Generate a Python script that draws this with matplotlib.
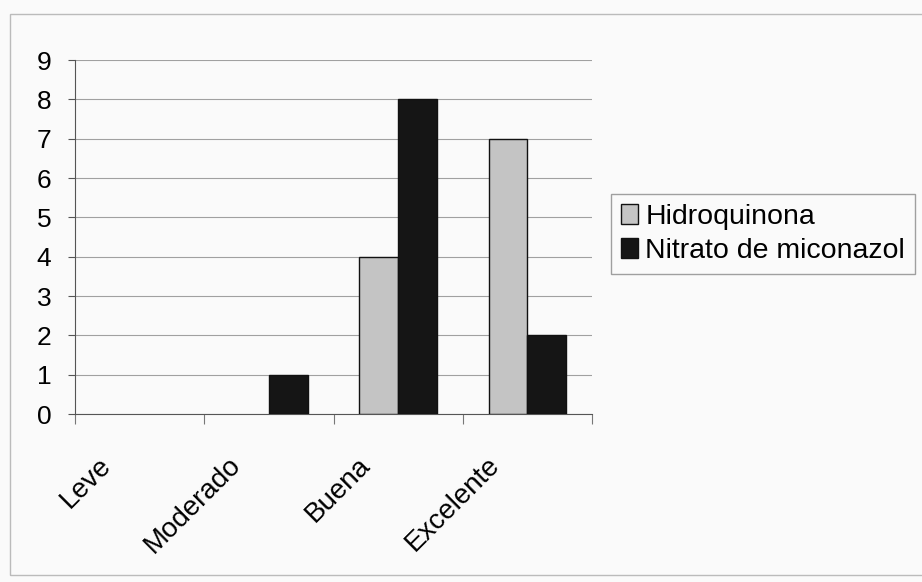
import numpy as np
import matplotlib.pyplot as plt
import matplotlib.transforms as mtransforms
from matplotlib.patches import Rectangle

# data
categories = ["Leve", "Moderado", "Buena", "Excelente"]
hidroquinona = [0, 0, 4, 7]
miconazol = [0, 1, 8, 2]
series_names = ["Hidroquinona", "Nitrato de miconazol"]

plt.rcParams['font.family'] = ['Liberation Sans', 'DejaVu Sans']

fig = plt.figure(figsize=(9.22, 5.82), dpi=100)
fig.patch.set_facecolor("#fafafa")
ax = fig.add_axes([75/922, 1 - 414/582, (592 - 75)/922, (414 - 60)/582])
ax.set_facecolor("#fafafa")

# outer chart frame
fig.patches.append(Rectangle((10/922, 0.012), 1.0, 1 - 14/582 - 0.012,
                             transform=fig.transFigure, fill=False,
                             edgecolor="#bbbbbb", linewidth=1.0))

x = np.arange(len(categories))
width = 0.3
b1 = ax.bar(x - width/2, hidroquinona, width, color="#c4c4c4", edgecolor="#111111",
            linewidth=1.0, label=series_names[0], zorder=3)
b2 = ax.bar(x + width/2, miconazol, width, color="#151515", edgecolor="#111111",
            linewidth=1.0, label=series_names[1], zorder=3)

leg = fig.legend(handles=[b1, b2], loc="center left",
                 bbox_to_anchor=(611/922, 1 - 234/582), fontsize=20.5,
                 frameon=True, fancybox=False, handlelength=0.6, handleheight=0.7,
                 handletextpad=0.25, borderpad=0.35, labelspacing=0.3,
                 borderaxespad=0)
leg.get_frame().set_edgecolor("#888888")
leg.get_frame().set_facecolor("#fafafa")
leg.get_frame().set_linewidth(1.0)

# empty bars should not leave an outline on the axis
for bars, vals in [(b1, hidroquinona), (b2, miconazol)]:
    for bar, v in zip(bars, vals):
        if v == 0:
            bar.set_linewidth(0)

ax.set_xlim(-0.5, 3.5)
ax.set_ylim(0, 9)
ax.set_yticks(range(0, 10))
ax.yaxis.grid(True, color="#a0a0a0", linewidth=0.8, zorder=0)

# boundary ticks on x-axis, labels at category centres
ax.set_xticks(np.arange(-0.5, 4, 1.0))
ax.set_xticklabels([])
ax.set_xticks(x, minor=True)
ax.set_xticklabels(categories, minor=True, rotation=45, ha="right", va="center",
                   rotation_mode="anchor", fontsize=20)
ax.tick_params(axis="x", which="minor", length=0, pad=34)
ax.tick_params(axis="x", which="major", length=7, color="#777777", direction="out")
ax.tick_params(axis="y", length=5, color="#555555", labelsize=19, pad=12)

offset = mtransforms.ScaledTranslation(-32/100, 0, fig.dpi_scale_trans)
for lbl in ax.get_xticklabels(minor=True):
    lbl.set_transform(lbl.get_transform() + offset)

for s in ["top", "right"]:
    ax.spines[s].set_visible(False)
ax.spines["left"].set_color("#555555")
ax.spines["bottom"].set_color("#555555")

plt.savefig("out.png", dpi=100)
